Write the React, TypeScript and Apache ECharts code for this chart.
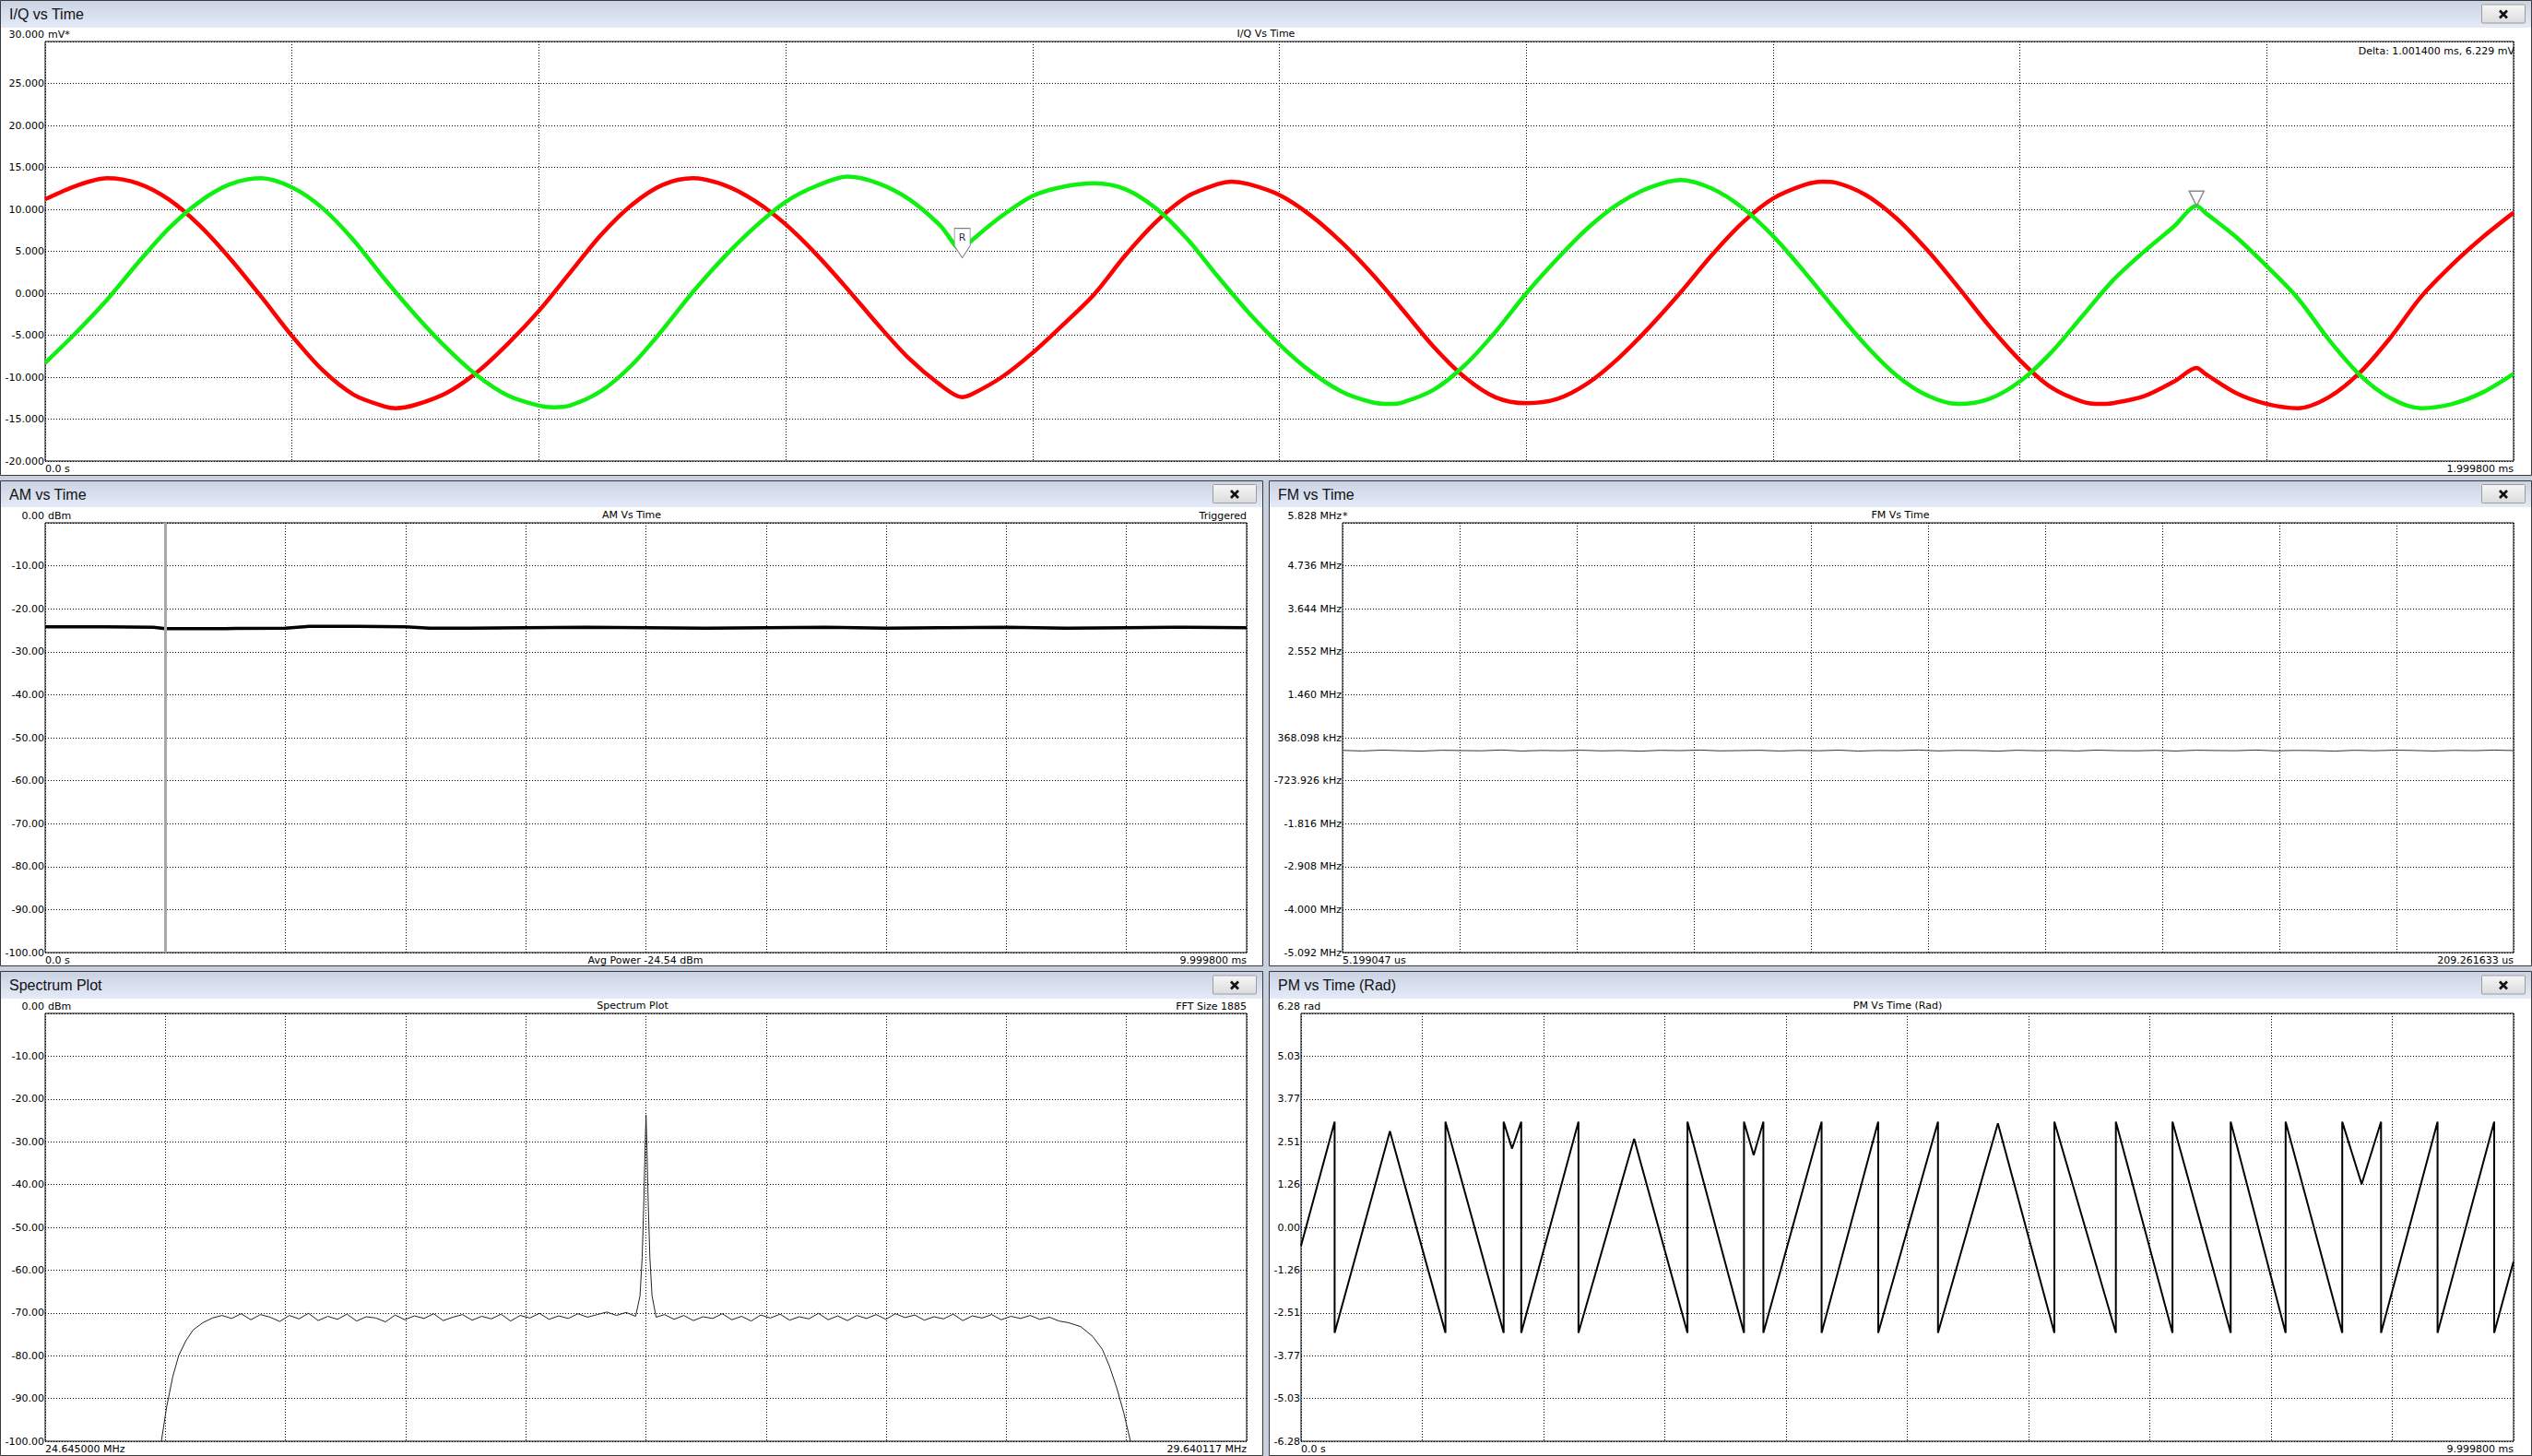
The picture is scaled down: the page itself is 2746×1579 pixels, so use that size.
import React, { useEffect, useRef } from "react";
import * as echarts from "echarts";

const W = 2746;
const H = 1579;
const SMALL = '11px "DejaVu Sans"';
const TITLE = '16px "Liberation Sans"';

// ---------------- I/Q vs Time (ms, mV) ----------------
const iTimeMs = [
  0, 0.025, 0.05, 0.075, 0.1, 0.125, 0.15, 0.175, 0.2, 0.225, 0.25, 0.275, 0.284, 0.3, 0.325, 0.35, 0.375, 0.4,
  0.425, 0.45, 0.475, 0.5, 0.525, 0.55, 0.575, 0.6, 0.625, 0.65, 0.675, 0.7, 0.725, 0.743, 0.75, 0.775,
  0.8, 0.825, 0.85, 0.875, 0.9, 0.925, 0.95, 0.961, 0.975, 1.0, 1.025, 1.05, 1.075, 1.1, 1.125, 1.15, 1.175, 1.2,
  1.225, 1.25, 1.275, 1.3, 1.325, 1.35, 1.375, 1.4, 1.425, 1.44, 1.45, 1.475, 1.5, 1.525, 1.55, 1.575, 1.6,
  1.625, 1.65, 1.665, 1.675, 1.7, 1.725, 1.743, 1.75, 1.775, 1.8, 1.825, 1.85, 1.875, 1.9, 1.925, 1.95, 1.975, 1.9998,
];
const iValuesMv = [
  11.2, 12.8, 13.7, 13.1, 11.2, 8.1, 4.1, -0.4, -5.1, -9.2, -12.1, -13.5, -13.7, -13.3, -11.9, -9.4, -6.0, -2.1,
  2.4, 6.9, 10.5, 12.9, 13.7, 12.9, 11.0, 8.2, 4.6, 0.5, -3.8, -7.8, -10.9, -12.4, -12.1, -10.0,
  -7.1, -3.7, -0.1, 4.5, 8.5, 11.5, 13.0, 13.3, 13.0, 11.7, 9.3, 6.1, 2.3, -2.0, -6.4, -10.0, -12.4, -13.1,
  -12.6, -10.7, -7.7, -4.0, 0.1, 4.5, 8.4, 11.3, 12.9, 13.3, 13.2, 11.7, 8.9, 5.1, 0.7, -3.9, -8.0,
  -11.2, -12.9, -13.2, -13.1, -12.3, -10.5, -8.9, -9.6, -11.9, -13.2, -13.7, -12.4, -9.5, -5.3, -0.4, 3.4, 6.7, 9.6,
];
const qTimeMs = [
  0, 0.025, 0.05, 0.075, 0.1, 0.125, 0.15, 0.175, 0.2, 0.225, 0.25, 0.275, 0.3, 0.325, 0.35, 0.375, 0.4, 0.412,
  0.425, 0.45, 0.475, 0.5, 0.525, 0.55, 0.575, 0.6, 0.625, 0.65, 0.675, 0.7, 0.725, 0.743, 0.75, 0.775,
  0.8, 0.825, 0.85, 0.875, 0.9, 0.925, 0.95, 0.975, 1.0, 1.025, 1.05, 1.075, 1.089, 1.1, 1.125, 1.15, 1.175, 1.2,
  1.225, 1.25, 1.275, 1.3, 1.325, 1.35, 1.375, 1.4, 1.425, 1.45, 1.475, 1.5, 1.525, 1.55, 1.575, 1.6,
  1.625, 1.65, 1.675, 1.7, 1.725, 1.743, 1.75, 1.775, 1.8, 1.825, 1.85, 1.875, 1.9, 1.925, 1.95, 1.975, 1.9998,
];
const qValuesMv = [
  -8.3, -4.7, -0.8, 3.6, 7.7, 10.9, 13.0, 13.7, 12.6, 10.1, 6.3, 1.7, -2.6, -6.5, -9.8, -12.2, -13.4, -13.6,
  -13.4, -11.7, -8.6, -4.4, 0.2, 4.3, 7.9, 10.9, 12.8, 13.9, 13.1, 11.2, 8.1, 5.1, 6.2, 9.2,
  11.6, 12.7, 13.1, 12.4, 10.1, 6.5, 2.0, -2.3, -6.1, -9.3, -11.7, -13.0, -13.2, -13.0, -11.5, -8.6, -4.6, 0.0,
  4.1, 7.8, 10.7, 12.6, 13.5, 12.5, 10.2, 6.8, 2.6, -1.9, -6.2, -9.8, -12.2, -13.2, -12.6, -10.5,
  -7.1, -2.8, 1.5, 4.9, 8.0, 10.4, 9.6, 6.7, 3.2, -0.6, -5.5, -9.7, -12.5, -13.7, -13.2, -11.8, -9.6,
];
const iqRefMarkerTime = 0.743;
const iqPeakMarkerTime = 1.743;
const iqXRange = [0, 1.9998];

// ---------------- AM vs Time (ms, dBm) ----------------
const amTimeMs = [0, 0.5, 0.9, 1.0, 1.5, 2.0, 2.2, 2.6, 3.0, 3.2, 3.5, 4.0, 4.5, 5.0, 5.5, 6.0, 6.5, 7.0, 7.5, 8.0, 8.5, 9.0, 9.5, 9.9998];
const amDbm = [-24.2, -24.2, -24.3, -24.6, -24.6, -24.5, -24.1, -24.1, -24.2, -24.5, -24.5, -24.4, -24.3, -24.4, -24.5, -24.4, -24.3, -24.5, -24.4, -24.3, -24.5, -24.4, -24.3, -24.4];
const amTriggerMs = 0.99998;

// ---------------- FM vs Time (us, MHz) ----------------
const fmValuesMHz = [
  0.045, 0.031, 0.052, 0.038, 0.027, 0.049, 0.041, 0.035, 0.056, 0.029, 0.044, 0.037, 0.05, 0.033, 0.042,
  0.026, 0.047, 0.039, 0.053, 0.034, 0.04, 0.048, 0.03, 0.045, 0.036, 0.051, 0.028, 0.043, 0.038, 0.055,
  0.032, 0.046, 0.041, 0.027, 0.049, 0.036, 0.044, 0.031, 0.052, 0.039, 0.035, 0.047, 0.029, 0.05, 0.042,
  0.037, 0.054, 0.033, 0.045, 0.04, 0.028, 0.048, 0.036, 0.051, 0.043, 0.03, 0.046, 0.038, 0.053, 0.041,
];
const fmTickLabels = [
  "-5.092 MHz", "-4.000 MHz", "-2.908 MHz", "-1.816 MHz", "-723.926 kHz", "368.098 kHz",
  "1.460 MHz", "2.552 MHz", "3.644 MHz", "4.736 MHz", "5.828 MHz",
];
const fmAxisMinMHz = -5.092;
const fmAxisStepMHz = 1.092;

// ---------------- Spectrum (MHz, dBm) ----------------
const specRangeMHz = [24.645, 29.640117];
const specFreqMHz = [
  25.128, 25.15, 25.175, 25.2, 25.23, 25.26, 25.3, 25.34, 25.38,
  25.42, 25.46, 25.5, 25.54, 25.58, 25.62, 25.66, 25.7, 25.74, 25.78, 25.82, 25.86, 25.9, 25.94, 25.98,
  26.02, 26.06, 26.1, 26.14, 26.18, 26.22, 26.26, 26.3, 26.34, 26.38, 26.42, 26.46, 26.5, 26.54, 26.58,
  26.62, 26.66, 26.7, 26.74, 26.78, 26.82, 26.86, 26.9, 26.94, 26.98, 27.02, 27.06, 27.1,
  27.118, 27.127, 27.134, 27.139, 27.143, 27.147, 27.152, 27.159, 27.168, 27.185,
  27.22, 27.26, 27.3, 27.34, 27.38, 27.42, 27.46, 27.5, 27.54, 27.58, 27.62, 27.66, 27.7, 27.74, 27.78,
  27.82, 27.86, 27.9, 27.94, 27.98, 28.02, 28.06, 28.1, 28.14, 28.18, 28.22, 28.26, 28.3, 28.34, 28.38,
  28.42, 28.46, 28.5, 28.54, 28.58, 28.62, 28.66, 28.7, 28.74, 28.78, 28.82, 28.86,
  28.9, 28.95, 29.0, 29.04, 29.07, 29.1, 29.13, 29.157,
];
const specDbm = [
  -100, -92, -85, -80, -76.5, -74, -72.3, -71.2, -70.6,
  -71.3, -70.2, -71.6, -70.4, -71.0, -72.0, -70.6, -71.4, -70.1, -71.8, -70.8, -71.5, -70.3, -71.9, -70.9,
  -71.2, -72.1, -70.5, -71.6, -70.7, -71.3, -70.2, -71.8, -71.0, -70.4, -71.7, -70.8, -71.4, -70.3, -71.9,
  -70.6, -71.2, -70.1, -71.5, -70.7, -71.3, -70.2, -71.0, -70.4, -69.8, -70.6, -69.9, -70.8,
  -66, -57, -44, -32, -23.7, -32, -44, -57, -66, -71.0,
  -70.4, -71.5, -70.6, -71.8, -70.9, -71.3, -70.2, -71.6, -70.8, -71.9, -70.5, -71.2, -70.3, -71.7, -70.9,
  -71.4, -70.1, -71.6, -70.7, -71.8, -70.6, -71.3, -70.4, -71.5, -70.2, -71.1, -70.5, -71.7, -70.9, -71.4,
  -70.3, -71.8, -70.7, -71.2, -70.4, -71.6, -70.8, -71.3, -70.6, -71.5, -71.0, -71.9,
  -72.3, -73.2, -75.5, -78.5, -82.5, -87.5, -93.5, -100,
];

// ---------------- PM vs Time (ms, rad) ----------------
const pmTimeMs = [
  0, 0.277, 0.277, 0.733, 1.191, 1.191, 1.671, 1.671, 1.74, 1.816, 1.816, 2.288, 2.288, 2.747,
  3.187, 3.187, 3.653, 3.653, 3.733, 3.813, 3.813, 4.293, 4.293, 4.76, 4.76, 5.253, 5.253, 5.747,
  6.213, 6.213, 6.72, 6.72, 7.187, 7.187, 7.667, 7.667, 8.12, 8.12, 8.587, 8.587, 8.747, 8.907, 8.907,
  9.373, 9.373, 9.84, 9.84, 9.9998,
];
const pmRad = [
  -0.54, 3.1, -3.1, 2.82, -3.1, 3.1, -3.1, 3.1, 2.31, 3.1, -3.1, 3.1, -3.1, 2.6,
  -3.1, 3.1, -3.1, 3.1, 2.12, 3.1, -3.1, 3.1, -3.1, 3.1, -3.1, 3.1, -3.1, 3.05,
  -3.1, 3.1, -3.1, 3.1, -3.1, 3.1, -3.1, 3.1, -3.1, 3.1, -3.1, 3.1, 1.27, 3.1, -3.1,
  3.1, -3.1, 3.1, -3.1, -1.0,
];
const pmTickLabels = ["-6.28", "-5.03", "-3.77", "-2.51", "-1.26", "0.00", "1.26", "2.51", "3.77", "5.03", "6.28"];
const pmAxisMin = -6.28;
const pmAxisStep = 1.256;

// ---------------- texts ----------------
const panelTitles = ["I/Q vs Time", "AM vs Time", "FM vs Time", "Spectrum Plot", "PM vs Time (Rad)"];
const plotTitles = ["I/Q Vs Time", "AM Vs Time", "FM Vs Time", "Spectrum Plot", "PM Vs Time (Rad)"];
const topTickLabels = [["30.000", "mV*"], ["0.00", "dBm"], ["5.828 MHz", "*"], ["0.00", "dBm"], ["6.28", "rad"]];
const xEndLabels = [
  ["0.0 s", "1.999800 ms"],
  ["0.0 s", "9.999800 ms"],
  ["5.199047 us", "209.261633 us"],
  ["24.645000 MHz", "29.640117 MHz"],
  ["0.0 s", "9.999800 ms"],
];
const deltaText = "Delta: 1.001400 ms, 6.229 mV";
const amTopRight = "Triggered";
const amBottomCenter = "Avg Power -24.54 dBm";
const specTopRight = "FFT Size 1885";

// layout
const grids = [
  { left: 49, top: 45, width: 2677, height: 455 },
  { left: 49, top: 567, width: 1303, height: 466 },
  { left: 1456, top: 567, width: 1270, height: 466 },
  { left: 49, top: 1099, width: 1303, height: 464 },
  { left: 1411, top: 1099, width: 1315, height: 464 },
];
const panels = [
  { x: 0, y: 0, w: 2746, h: 516, bar: 29, center: 1373 },
  { x: 0, y: 521, w: 1370, h: 527, bar: 28, center: 685 },
  { x: 1376, y: 521, w: 1370, h: 527, bar: 28, center: 2061 },
  { x: 0, y: 1053, w: 1370, h: 526, bar: 29, center: 686 },
  { x: 1376, y: 1053, w: 1370, h: 526, bar: 29, center: 2058 },
];

function txt(x: number, y: number, text: string, align = "left", font = SMALL, fill = "#000") {
  return {
    type: "text",
    z: 50,
    silent: true,
    style: { x, y, text, font, fill, textAlign: align, textVerticalAlign: "middle", align, verticalAlign: "middle" },
  };
}

function buildOption() {
  const dotted = { color: "#000", width: 1, type: [1, 2] };
  const graphics: any[] = [];
  panels.forEach((p, i) => {
    graphics.push({
      type: "rect", z: -20, silent: true,
      shape: { x: p.x + 0.5, y: p.y + 0.5, width: p.w - 1, height: p.h - 1 },
      style: { fill: "#ffffff", stroke: "#3a3a3a", lineWidth: 1 },
    });
    graphics.push({
      type: "rect", z: -19, silent: true,
      shape: { x: p.x + 1, y: p.y + 1, width: p.w - 2, height: p.bar },
      style: {
        fill: new echarts.graphic.LinearGradient(0, 0, 0, 1, [
          { offset: 0, color: "#cbd3e3" },
          { offset: 1, color: "#e4eaf8" },
        ]),
      },
    });
    const barMid = p.y + 1 + p.bar / 2;
    graphics.push(txt(p.x + 10, barMid, panelTitles[i], "left", TITLE, "#111"));
    const bx = p.x + p.w - 55;
    graphics.push({
      type: "rect", z: 40, silent: true,
      shape: { x: bx + 0.5, y: barMid - 10.5, width: 47, height: 20, r: 1 },
      style: {
        fill: new echarts.graphic.LinearGradient(0, 0, 0, 1, [
          { offset: 0, color: "#f6f6f6" },
          { offset: 1, color: "#dcdcdc" },
        ]),
        stroke: "#9c9c9c",
        lineWidth: 1,
      },
    });
    const cx = bx + 24;
    const cy = barMid;
    graphics.push({
      type: "line", z: 45, silent: true,
      shape: { x1: cx - 4, y1: cy - 4, x2: cx + 4, y2: cy + 4 },
      style: { stroke: "#111", lineWidth: 2.6 },
    });
    graphics.push({
      type: "line", z: 45, silent: true,
      shape: { x1: cx + 4, y1: cy - 4, x2: cx - 4, y2: cy + 4 },
      style: { stroke: "#111", lineWidth: 2.6 },
    });

    const g = grids[i];
    const labelY = g.top - 8;
    const right = g.left + g.width;
    graphics.push(txt(g.left - 1, labelY, topTickLabels[i][0], "right"));
    graphics.push(txt(g.left + (i === 2 ? 0 : 3), labelY, topTickLabels[i][1], "left"));
    graphics.push(txt(p.center, labelY - 1, plotTitles[i], "center"));
    const by = g.top + g.height + 8;
    graphics.push(txt(g.left, by, xEndLabels[i][0], "left"));
    graphics.push(txt(right, by, xEndLabels[i][1], "right"));
  });
  graphics.push(txt(2727, 55, deltaText, "right"));
  graphics.push(txt(1352, grids[1].top - 8, amTopRight, "right"));
  graphics.push(txt(700, grids[1].top + grids[1].height + 8, amBottomCenter, "center"));
  graphics.push(txt(1352, grids[3].top - 8, specTopRight, "right"));

  const xAxis = (gridIndex: number, min: number, max: number, interval: number) => ({
    type: "value", gridIndex, min, max, interval,
    axisLine: { show: false }, axisTick: { show: false }, axisLabel: { show: false },
    splitLine: { show: true, lineStyle: dotted },
  });
  const yAxis = (gridIndex: number, min: number, max: number, interval: number, formatter: any) => ({
    type: "value", gridIndex, min, max, interval,
    axisLine: { show: false }, axisTick: { show: false },
    axisLabel: {
      show: true, formatter, margin: 1, color: "#000", fontSize: 11, fontFamily: "DejaVu Sans",
      showMaxLabel: false, showMinLabel: true,
    },
    splitLine: { show: true, lineStyle: dotted },
  });

  const iqR = iTimeMs.map((t, k) => [t, iValuesMv[k]]);
  const iqG = qTimeMs.map((t, k) => [t, qValuesMv[k]]);
  const rIdx = qTimeMs.indexOf(iqRefMarkerTime);
  const pIdx = qTimeMs.indexOf(iqPeakMarkerTime);

  const fmData = fmValuesMHz.map((v, k) => [
    (k / (fmValuesMHz.length - 1)) * 10,
    (v - fmAxisMinMHz) / fmAxisStepMHz,
  ]);
  const spData = specFreqMHz.map((f, k) => [
    ((f - specRangeMHz[0]) / (specRangeMHz[1] - specRangeMHz[0])) * 10,
    specDbm[k],
  ]);
  const pmData = pmTimeMs.map((t, k) => [t, (pmRad[k] - pmAxisMin) / pmAxisStep]);

  return {
    animation: false,
    backgroundColor: "#c8d0e0",
    graphic: { elements: graphics },
    grid: grids.map((g) => ({ ...g, show: true, borderColor: "#000", borderWidth: 1, backgroundColor: "transparent", z: 1 })),
    xAxis: [
      xAxis(0, iqXRange[0], iqXRange[1], iqXRange[1] / 10),
      xAxis(1, 0, 9.9998, 0.99998),
      xAxis(2, 0, 10, 1),
      xAxis(3, 0, 10, 1),
      xAxis(4, 0, 9.9998, 0.99998),
    ],
    yAxis: [
      yAxis(0, -20, 30, 5, (v: number) => v.toFixed(3)),
      yAxis(1, -100, 0, 10, (v: number) => v.toFixed(2)),
      yAxis(2, 0, 10, 1, (v: number) => fmTickLabels[Math.round(v)]),
      yAxis(3, -100, 0, 10, (v: number) => v.toFixed(2)),
      yAxis(4, 0, 10, 1, (v: number) => pmTickLabels[Math.round(v)]),
    ],
    series: [
      {
        type: "line", xAxisIndex: 0, yAxisIndex: 0, data: iqR, showSymbol: false, smooth: 0.3,
        lineStyle: { color: "#ff0000", width: 4.5 }, itemStyle: { color: "#ff0000" }, z: 3,
      },
      {
        type: "line", xAxisIndex: 0, yAxisIndex: 0, data: iqG, showSymbol: false, smooth: 0.3,
        lineStyle: { color: "#10f010", width: 4.5 }, itemStyle: { color: "#10f010" }, z: 4,
        markPoint: {
          silent: true,
          data: [
            {
              coord: iqG[rIdx],
              symbol: "path://M0,0L17,0L17,19L8.5,32L0,19Z",
              symbolSize: [17, 32],
              symbolOffset: [0, -8],
              itemStyle: { color: "#ffffff", borderColor: "#808080", borderWidth: 1 },
              label: { show: true, formatter: "R", color: "#3a1f5c", fontSize: 11, fontFamily: "DejaVu Sans", offset: [0, -6] },
            },
            {
              coord: iqG[pIdx],
              symbol: "path://M0,0L16,0L8,16Z",
              symbolSize: [16, 16],
              symbolOffset: [0, -8],
              itemStyle: { color: "rgba(255,255,255,0)", borderColor: "#8a8a8a", borderWidth: 1.5 },
              label: { show: false },
            },
          ],
        },
      },
      {
        type: "line", xAxisIndex: 1, yAxisIndex: 1, data: amTimeMs.map((t, k) => [t, amDbm[k]]),
        showSymbol: false, lineStyle: { color: "#000", width: 3.5 }, z: 3,
        markLine: {
          silent: true, symbol: "none", label: { show: false },
          lineStyle: { color: "#a8a8a8", width: 3, type: "solid" },
          data: [{ xAxis: amTriggerMs }],
        },
      },
      {
        type: "line", xAxisIndex: 2, yAxisIndex: 2, data: fmData, showSymbol: false,
        lineStyle: { color: "#333", width: 1 }, z: 3,
      },
      {
        type: "line", xAxisIndex: 3, yAxisIndex: 3, data: spData, showSymbol: false,
        lineStyle: { color: "#222", width: 1 }, z: 3,
      },
      {
        type: "line", xAxisIndex: 4, yAxisIndex: 4, data: pmData, showSymbol: false,
        lineStyle: { color: "#000", width: 2 }, z: 3,
      },
    ],
  };
}

export default function App() {
  const ref = useRef<HTMLDivElement>(null);
  useEffect(() => {
    document.body.style.margin = "0";
    const chart = echarts.init(ref.current!, undefined, { renderer: "svg", width: W, height: H });
    chart.setOption(buildOption() as any);
    return () => chart.dispose();
  }, []);
  return <div ref={ref} style={{ position: "fixed", left: 0, top: 0, width: W, height: H }} />;
}
